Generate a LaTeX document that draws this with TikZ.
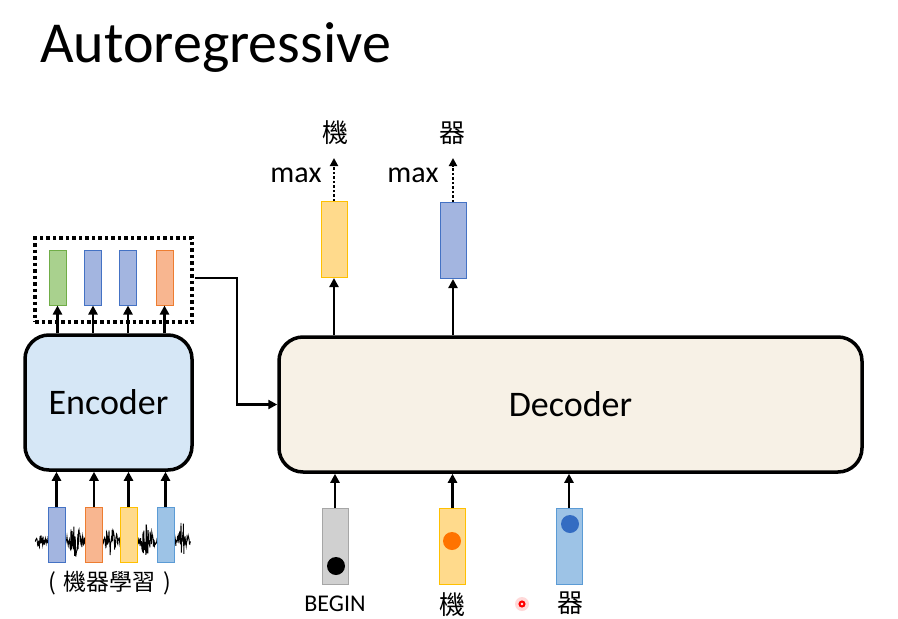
\documentclass[tikz,border=0pt]{standalone}
\usepackage{fontspec}
\setmainfont{Carlito}
\newfontfamily\cjk{Noto Sans CJK TC}
\usepackage{tikz}
\usetikzlibrary{arrows.meta,positioning,calc}

\definecolor{encfill}{HTML}{D6E7F6}
\definecolor{decfill}{HTML}{F7F1E6}
\definecolor{vgreen}{HTML}{A9D18E}\definecolor{vgreenB}{HTML}{70AD47}
\definecolor{vblue}{HTML}{A3B5E0}\definecolor{vblueB}{HTML}{4472C4}
\definecolor{vorange}{HTML}{F8B690}\definecolor{vorangeB}{HTML}{ED7D31}
\definecolor{vyellow}{HTML}{FFDA8C}\definecolor{vyellowB}{HTML}{FFC000}
\definecolor{vsky}{HTML}{9DC3E6}\definecolor{vskyB}{HTML}{5B9BD5}
\definecolor{vgray}{HTML}{D0D0D0}\definecolor{vgrayB}{HTML}{A6A6A6}

\begin{document}
\begin{tikzpicture}[
  x=1pt, y=-1pt,
  edge/.style={-{Triangle[length=9pt,width=9pt]}, line width=2.8pt},
  maxedge/.style={-{Triangle[length=8pt,width=8pt]}, line width=2.8pt, dash pattern=on 2.5pt off 2pt},
  block/.style={draw=black, line width=3.5pt, rounded corners=24pt, inner sep=0pt},
  vec/.style={draw, line width=1pt, minimum width=17pt, minimum height=55pt, inner sep=0pt},
  bigvec/.style={draw, line width=1pt, minimum width=26pt, minimum height=76pt, inner sep=0pt},
  lbl/.style={font=\fontsize{30}{34}\selectfont},
  zh/.style={font=\cjk\fontsize{23}{26}\selectfont},
]
  \useasboundingbox (0,0) rectangle (898,619);

  % title
  \node[anchor=base west, inner sep=0pt, font=\fontsize{58}{64}\selectfont] (title) at (40,62) {Autoregressive};

  % encoder side
  \node[block, fill=encfill, minimum width=167pt, minimum height=135pt,
        font=\fontsize{36}{40}\selectfont] (enc) at (108.5,402.5) {Encoder};
  \node[vec, fill=vgreen, draw=vgreenB]   (e1) at (57.5,277.5) {};
  \node[vec, fill=vblue, draw=vblueB]     (e2) at (93,277.5) {};
  \node[vec, fill=vblue, draw=vblueB]     (e3) at (128,277.5) {};
  \node[vec, fill=vorange, draw=vorangeB] (e4) at (164.5,277.5) {};
  \node[draw, line width=3.5pt, dash pattern=on 3.5pt off 3pt,
        minimum width=157pt, minimum height=84pt] (dots) at (113.5,280) {};
  \foreach \i in {1,...,4}
    \draw[edge] (enc.north -| e\i) -- (e\i.south);

  % waveform
  \pgfmathsetseed{11}
  \draw[line width=0.9pt] (35,541)
    \foreach \x in {35.4,35.8,...,191}
      { -- (\x,{541 + (2 + 5*exp(-((\x-40)/5)^2) + 15*exp(-((\x-75)/6)^2)
          + 13*exp(-((\x-111)/6)^2) + 15*exp(-((\x-147)/6)^2)
          + 17*exp(-((\x-182)/5)^2))*rand}) };
  \node[vec, fill=vblue, draw=vblueB]     (x1) at (56.5,534.5) {};
  \node[vec, fill=vorange, draw=vorangeB] (x2) at (94,534.5) {};
  \node[vec, fill=vyellow, draw=vyellowB] (x3) at (128.5,534.5) {};
  \node[vec, fill=vsky, draw=vskyB]       (x4) at (165.5,534.5) {};
  \foreach \i in {1,...,4}
    \draw[edge] (x\i.north) -- (enc.south -| x\i);
  \node[zh] (speech) at (110,583) {(\,\,機器學習\,\,)};

  % decoder
  \node[block, fill=decfill, minimum width=583pt, minimum height=135pt,
        font=\fontsize{36}{40}\selectfont] (dec) at (570.5,404.5) {Decoder};
  \coordinate (c1) at (195,278);
  \draw[line width=2.8pt, -{Triangle[length=9pt,width=9pt]}] (c1) -- (237,278) |- (dec.west);

  % outputs
  \node[bigvec, fill=vyellow, draw=vyellowB] (y1) at (334,239.5) {};
  \node[bigvec, fill=vblue, draw=vblueB]     (y2) at (453,240.5) {};
  \draw[edge] (dec.north -| y1) -- (y1.south);
  \draw[edge] (dec.north -| y2) -- (y2.south);
  \coordinate (t1) at (334,158);
  \coordinate (t2) at (453,158);
  \draw[maxedge] (y1.north) -- (t1);
  \draw[maxedge] (y2.north) -- (t2);
  \node[lbl] (m1) at (296,175) {max};
  \node[lbl] (m2) at (413,175) {max};
  \node[zh, font=\cjk\fontsize{26}{28}\selectfont] (o1) at (335,133) {機};
  \node[zh, font=\cjk\fontsize{26}{28}\selectfont] (o2) at (452,133) {器};

  % inputs
  \node[bigvec, fill=vgray, draw=vgrayB]     (i1) at (335,546.5) {};
  \node[bigvec, fill=vyellow, draw=vyellowB] (i2) at (452.5,546.5) {};
  \node[bigvec, fill=vsky, draw=vskyB]       (i3) at (569,546.5) {};
  \fill[black]            (336,566) circle (9pt);
  \fill[orange!90!red]    (452,541) circle (9pt);
  \fill[blue!60!cyan!70!black!80] (570,524) circle (9pt);
  \foreach \i in {1,2,3}
    \draw[edge] (i\i.north) -- (dec.south -| i\i);
  \node[font=\fontsize{24}{26}\selectfont] (b1) at (335,604) {BEGIN};
  \node[zh, font=\cjk\fontsize{26}{28}\selectfont] (b2) at (452,605) {機};
  \node[zh, font=\cjk\fontsize{26}{28}\selectfont] (b3) at (570,603) {器};

  % pointer
  \fill[red!15] (522,604) circle (7pt);
  \draw[red, line width=2pt] (522,604) circle (2.5pt);
\end{tikzpicture}
\end{document}
